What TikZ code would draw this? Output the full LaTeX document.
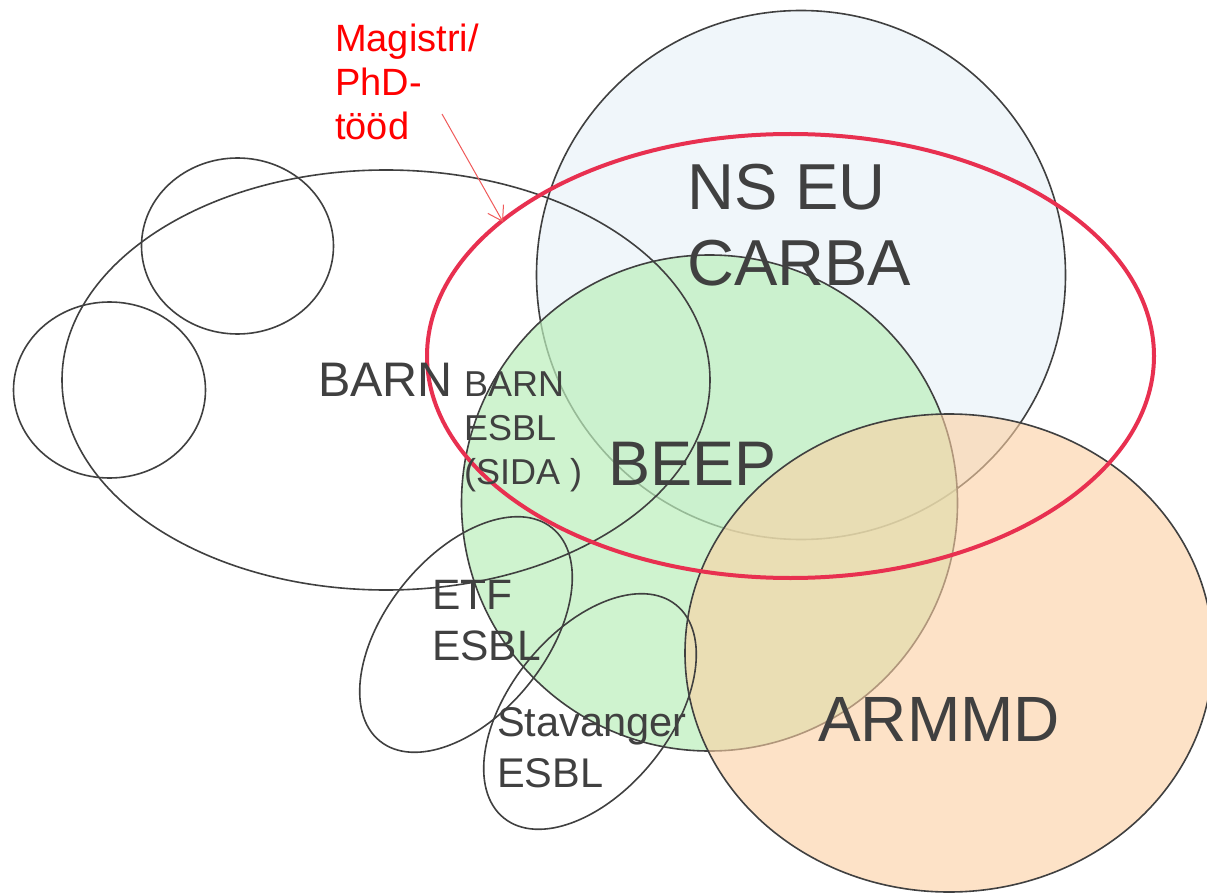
\documentclass[tikz,border=0pt]{standalone}
\usepackage{fontspec}
\setmainfont{Liberation Sans}
\usetikzlibrary{arrows.meta}
\definecolor{txtgray}{RGB}{64,64,64}
\definecolor{lineGray}{RGB}{64,64,64}
\definecolor{blueFill}{RGB}{240,246,250}
\definecolor{greenFill}{RGB}{188,239,188}
\definecolor{orangeFill}{RGB}{252,208,163}
\definecolor{redRing}{RGB}{232,48,80}
\definecolor{arrowRed}{RGB}{240,90,90}
\definecolor{labelRed}{RGB}{255,0,0}
\begin{document}
\begin{tikzpicture}[x=1pt,y=-1pt,
  outline/.style={draw=lineGray, line width=1.6pt},
  lbl/.style={text=txtgray, inner sep=0pt, anchor=north west, align=left}]
\useasboundingbox (0,0) rectangle (1207,893);
\fill[white] (0,0) rectangle (1207,893);
% filled sets
\draw[outline, fill=blueFill] (801,275) circle [radius=264.5pt];
\draw[outline, fill=greenFill, fill opacity=0.7] (709.5,503) circle [radius=248pt];
\draw[outline, fill=orangeFill, fill opacity=0.6] (949,653) ellipse [x radius=264pt, y radius=239pt];
% outline sets
\draw[outline] (386,380) ellipse [x radius=324pt, y radius=210pt];
\draw[outline] (237.5,246) ellipse [x radius=96pt, y radius=88pt];
\draw[outline] (109.5,390) ellipse [x radius=96pt, y radius=88pt];
\draw[outline, rotate around={51:(466,634.5)}] (466,634.5) ellipse [x radius=137pt, y radius=80pt];
\draw[outline, rotate around={51:(590,711.5)}] (590,711.5) ellipse [x radius=137pt, y radius=80pt];
\draw[draw=redRing, line width=4pt] (790.5,356) ellipse [x radius=363.5pt, y radius=222pt];
% labels
\node[lbl, text=labelRed, font=\fontsize{38}{44}\selectfont] (mag) at (335,24) {Magistri/\\PhD-\\tööd};
\node[lbl, font=\fontsize{65}{76}\selectfont] (ns) at (687,163.5) {NS EU\\CARBA};
\node[lbl, font=\fontsize{63}{75}\selectfont] (beep) at (608.5,441.5) {BEEP};
\node[lbl, font=\fontsize{48.5}{58}\selectfont] (barn) at (318,363.3) {BARN};
\node[lbl, font=\fontsize{36}{44}\selectfont] (barnesbl) at (464,371.7) {BARN\\ESBL\\(SIDA )};
\node[lbl, font=\fontsize{42.5}{51}\selectfont] (etf) at (432,580) {ETF\\ESBL};
\node[lbl, font=\fontsize{41.5}{51}\selectfont] (stav) at (497,707.5) {Stavanger\\ESBL};
\node[lbl, font=\fontsize{64}{76}\selectfont] (armmd) at (818,697) {ARMMD};
% arrow
\coordinate (arrS) at (442,114);
\coordinate (arrE) at (503,222);
\draw[arrowRed, line width=1pt, -{Straight Barb[length=14pt,width=18pt]}] (arrS) -- (arrE);
\end{tikzpicture}
\end{document}
